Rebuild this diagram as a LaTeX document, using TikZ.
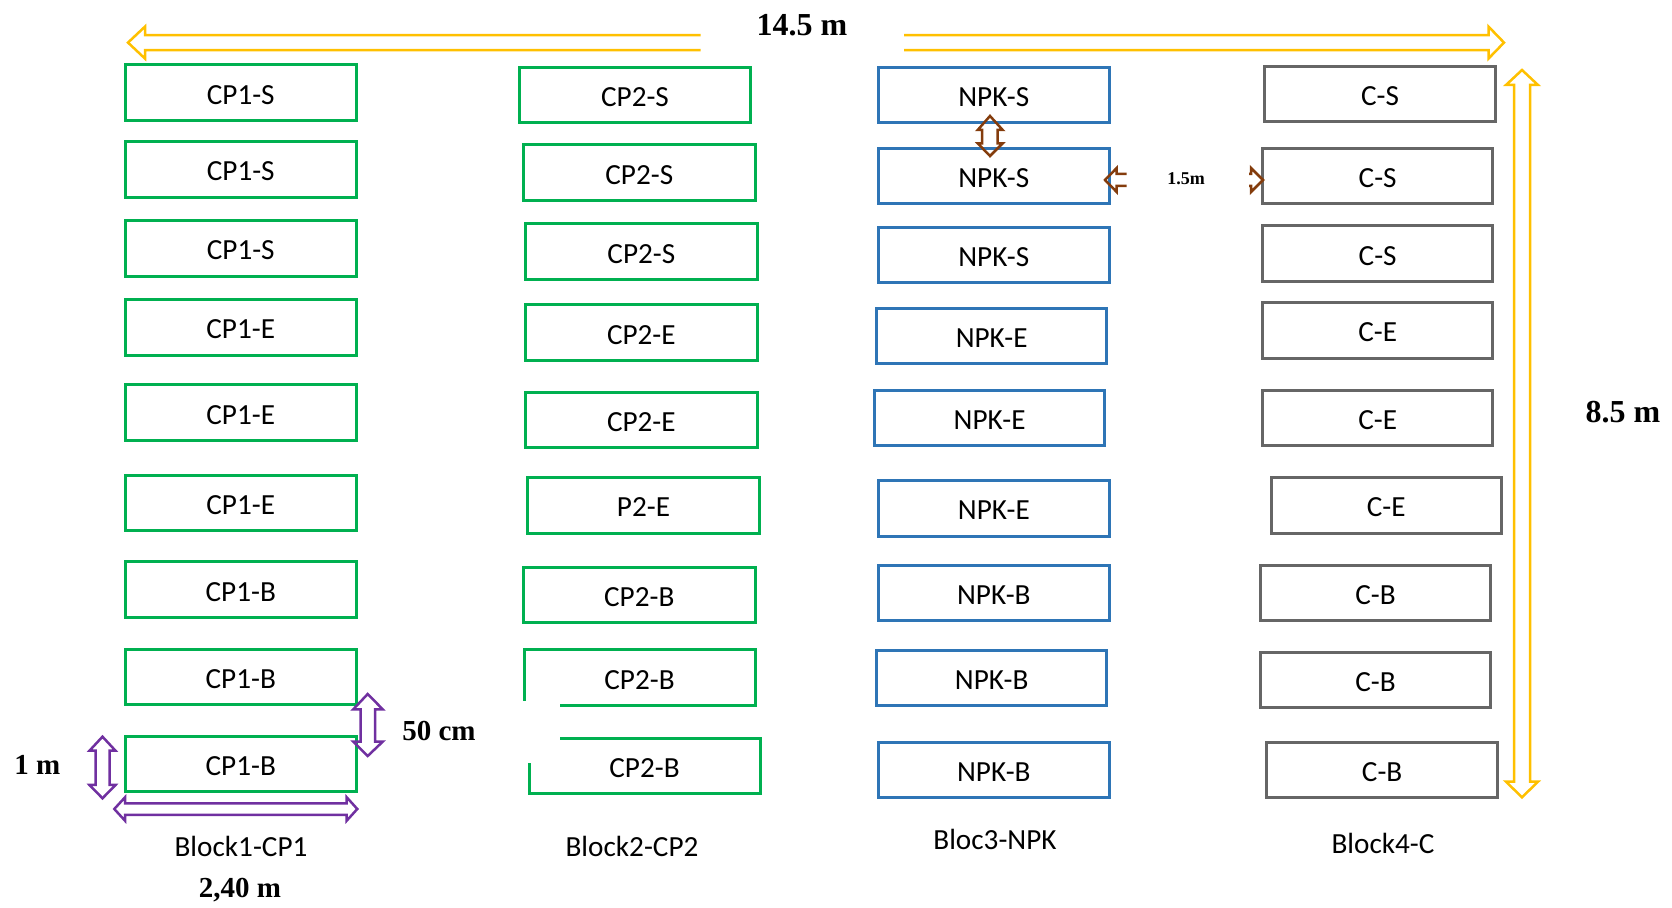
\documentclass[tikz,border=0pt]{standalone}
\usepackage{fontspec}
\setmainfont{Carlito}
\newfontfamily\tnr{Liberation Serif}
\definecolor{cgreen}{HTML}{00B050}
\definecolor{cblue}{HTML}{2E75B6}
\definecolor{cgray}{HTML}{666666}
\definecolor{cyellow}{HTML}{FFC000}
\definecolor{cbrown}{HTML}{843C0C}
\definecolor{cpurple}{HTML}{7030A0}
\newcommand\pbox[7]{\node[#6, minimum width={(#4-#2)*0.5pt}, minimum height={(#5-#3)*0.5pt}] (#1) at ({(#2+#4)/2},{(#3+#5)/2}) {#7};}
\begin{document}
\begin{tikzpicture}[x=0.5pt,y=-0.5pt,
  plot/.style={draw, line width=1.5pt, inner sep=0pt, text height=11.4pt, text depth=0pt, font=\fontsize{14.6}{16}\selectfont},
  gbox/.style={plot, draw=cgreen},
  bbox/.style={plot, draw=cblue},
  kbox/.style={plot, draw=cgray},
  tbox/.style={inner sep=0pt, text height=11.4pt, text depth=0pt, font=\fontsize{14.6}{16}\selectfont},
  lbl/.style={inner sep=0pt, font=\fontsize{14.6}{16}\selectfont},
  dim/.style={inner sep=0pt, font=\tnr\bfseries\fontsize{14.5}{16}\selectfont},
  bigdim/.style={inner sep=0pt, font=\tnr\bfseries\fontsize{16}{18}\selectfont},
  yarr/.style={draw=cyellow, line width=1.25pt, line join=miter},
  barr/.style={draw=cbrown, line width=1.25pt, line join=miter},
  parr/.style={draw=cpurple, line width=1.25pt, line join=miter}]
\useasboundingbox (0,0) rectangle (1672,908);
% Column 1
\pbox{a1}{125}{65}{356.5}{120.5}{gbox}{CP1-S}
\pbox{a2}{125}{141.8}{356.5}{197.3}{gbox}{CP1-S}
\pbox{a3}{125}{220.7}{356.5}{276.2}{gbox}{CP1-S}
\pbox{a4}{125}{299.6}{356.5}{355.1}{gbox}{CP1-E}
\pbox{a5}{125}{384.9}{356.5}{440.4}{gbox}{CP1-E}
\pbox{a6}{125}{475.6}{356.5}{531}{gbox}{CP1-E}
\pbox{a7}{125}{561.9}{356.5}{617.4}{gbox}{CP1-B}
\pbox{a8}{125}{649.4}{356.5}{704.8}{gbox}{CP1-B}
\pbox{a9}{125}{736.5}{356.5}{792}{gbox}{CP1-B}
% Column 2
\pbox{b1}{519.3}{67.2}{750.7}{122.6}{gbox}{CP2-S}
\pbox{b2}{523.5}{145}{755}{200.5}{gbox}{CP2-S}
\pbox{b3}{525.7}{224}{757}{279.4}{gbox}{CP2-S}
\pbox{b4}{525.7}{305}{757}{360.4}{gbox}{CP2-E}
\pbox{b5}{525.7}{392.4}{757}{447.8}{gbox}{CP2-E}
\pbox{b6}{527.8}{477.7}{759.2}{533.2}{gbox}{P2-E}
\pbox{b7}{523.5}{567.3}{755}{622.7}{gbox}{CP2-B}
\node[tbox] (b8) at (639.5,677.8) {CP2-B};
\node[tbox] (b9) at (644.5,766.2) {CP2-B};
\draw[cgreen, line width=1.5pt, line join=miter] (524,700.7) -- (524,650) -- (755,650) -- (755,705.7) -- (560,705.7);
\draw[cgreen, line width=1.5pt, line join=miter] (560,738.3) -- (760,738.3) -- (760,794) -- (529,794) -- (529,763.3);
% Column 3
\pbox{c1}{878.6}{67.2}{1109}{122.6}{bbox}{NPK-S}
\pbox{c2}{878.6}{148.6}{1109}{204}{bbox}{NPK-S}
\pbox{c3}{878.6}{227.1}{1109}{282.6}{bbox}{NPK-S}
\pbox{c4}{876.5}{308.2}{1106.8}{363.6}{bbox}{NPK-E}
\pbox{c5}{874.4}{390.3}{1104.7}{445.7}{bbox}{NPK-E}
\pbox{c6}{878.6}{480.9}{1109}{536.3}{bbox}{NPK-E}
\pbox{c7}{878.6}{565.1}{1109}{620.6}{bbox}{NPK-B}
\pbox{c8}{876.5}{650.4}{1106.8}{705.9}{bbox}{NPK-B}
\pbox{c9}{878.6}{742.1}{1109}{797.6}{bbox}{NPK-B}
% Column 4
\pbox{d1}{1264.6}{66.5}{1495.5}{121.8}{kbox}{C-S}
\pbox{d2}{1262.6}{148.6}{1492.8}{204}{kbox}{C-S}
\pbox{d3}{1262.6}{226}{1492.8}{281.5}{kbox}{C-S}
\pbox{d4}{1262.6}{302.8}{1492.8}{358.3}{kbox}{C-E}
\pbox{d5}{1262.6}{390.3}{1492.8}{445.7}{kbox}{C-E}
\pbox{d6}{1271}{477.7}{1501.4}{533.2}{kbox}{C-E}
\pbox{d7}{1260.4}{565.1}{1490.7}{620.6}{kbox}{C-B}
\pbox{d8}{1260.4}{652.6}{1490.7}{708}{kbox}{C-B}
\pbox{d9}{1266.8}{742.1}{1497.5}{797.3}{kbox}{C-B}
% Block labels
\node[lbl] (la) at (241,846.6) {Block1-CP1};
\node[lbl] (lb) at (632,846.6) {Block2-CP2};
\node[lbl] (lc) at (995,839) {Bloc3-NPK};
\node[lbl] (ld) at (1383,843.4) {Block4-C};
% Dimension texts
\node[bigdim] (t145) at (802,25.5) {14.5 m};
\node[bigdim] (t85) at (1623,411.6) {8.5 m};
\node[dim] (t1) at (37.3,764.5) {1 m};
\node[dim] (t50) at (439,731.5) {50 cm};
\node[dim] (t240) at (240,890) {2,40 m};
\node[inner sep=0pt, font=\tnr\bfseries\fontsize{9}{10}\selectfont] (t15) at (1186,179) {1.5m};
% Yellow arrows
\draw[yarr] (700.6,35.2) -- (145,35.2) -- (145,26.6) -- (128,42.6) -- (145,58.6) -- (145,50.1) -- (700.6,50.1);
\draw[yarr] (904,35.2) -- (1488.5,35.2) -- (1488.5,26.6) -- (1504,42.6) -- (1488.5,58.6) -- (1488.5,50.1) -- (904,50.1);
\draw[yarr] (1522,70) -- (1538,85) -- (1530,85) -- (1530,781.7) -- (1538,781.7) -- (1522,797.3) -- (1506,781.7) -- (1514,781.7) -- (1514,85) -- (1506,85) -- cycle;
% Brown arrows
\draw[barr] (990,116) -- (1002.7,130) -- (997.7,130) -- (997.7,143.3) -- (1002.7,143.3) -- (990,156) -- (977.7,143.3) -- (982,143.3) -- (982,130) -- (977.7,130) -- cycle;
\draw[barr] (1126.7,174) -- (1116.7,174) -- (1116.7,168) -- (1105,180) -- (1116.7,192) -- (1116.7,186) -- (1126.7,186);
\draw[barr] (1249,174) -- (1251,174) -- (1251,168) -- (1263,180) -- (1251,192) -- (1251,186) -- (1249,186);
% Purple arrows
\draw[parr] (367.7,694) -- (382.7,709.3) -- (375,709.3) -- (375,741.7) -- (382.7,741.7) -- (367.7,756) -- (353.3,741.7) -- (360.7,741.7) -- (360.7,709.3) -- (353.3,709.3) -- cycle;
\draw[parr] (102.5,736.7) -- (115.5,750.7) -- (109.5,750.7) -- (109.5,785) -- (115.5,785) -- (102.5,798.3) -- (89.5,785) -- (95.5,785) -- (95.5,750.7) -- (89.5,750.7) -- cycle;
\draw[parr] (114.3,809) -- (125,797.3) -- (125,803.3) -- (346.7,803.3) -- (346.7,797.3) -- (357.3,809) -- (346.7,820.7) -- (346.7,815) -- (125,815) -- (125,820.7) -- cycle;
\end{tikzpicture}
\end{document}
